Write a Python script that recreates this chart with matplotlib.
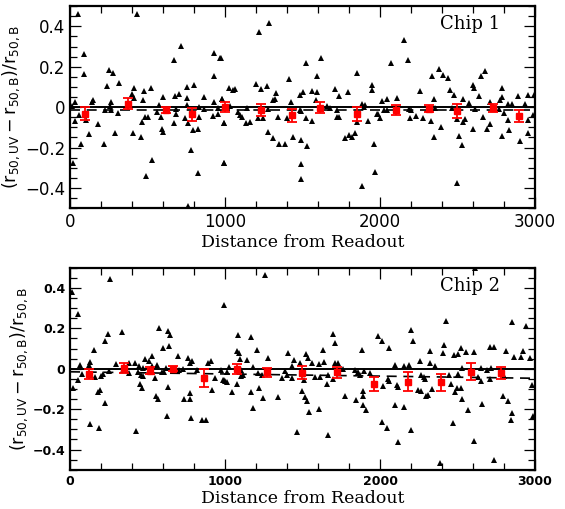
import numpy as np
import matplotlib
matplotlib.use("Agg")
import matplotlib.pyplot as plt
from matplotlib.ticker import MultipleLocator

plt.rcParams['mathtext.default'] = 'regular'

# chip 1 scatter (distance, fractional difference)
chip1_x = [49, 430, 88, 716, 673, 931, 968, 927, 92, 250, 275, 314, 237, 415, 480, 525,
           400, 415, 598, 677, 701, 752, 798, 755, 866, 980, 931, 469, 264, 146, 142, 34,
           13, 260, 576, 752, 834, 866, 952, 684, 228, 307, 264, 561, 60, 34, 103, 181,
           501, 486, 465, 587, 673, 684, 740, 759, 834, 920, 955, 996, 593, 602, 791, 823,
           125, 290, 404, 458, 71, 221, 781, 529, 17, 996, 823, 490, 759,
           1286, 1222, 972, 1523, 1617, 1415, 1596, 1850, 1198, 1273, 1232, 1028, 1050, 1065,
           1327, 1312, 1320, 1505, 1484, 1559, 1592, 1712, 1794, 1738, 1949, 1951, 1426, 1587,
           979, 1882, 1903, 1032, 1140, 1280, 1484, 1491, 1656, 1677, 1720, 1898, 1979, 1086,
           1097, 1112, 1215, 1243, 1136, 1162, 1344, 1398, 1523, 1559, 1720, 1732, 1850, 1925,
           994, 1280, 1312, 1350, 1389, 1437, 1490, 1531, 1772, 1798, 1821, 1839, 1961, 994,
           1488, 1967, 1490, 1886,
           2157, 2179, 2069, 2381, 2334, 2409, 2437, 2678, 2652, 2602, 2606, 2258, 2452, 2478,
           2789, 2785, 2639, 2533, 2351, 2112, 2047, 2015, 2893, 2953, 2775, 2710, 2573, 2854,
           2825, 2935, 2028, 2045, 2189, 2198, 2312, 2355, 2613, 2462, 2770, 2802, 1985, 2000,
           2194, 2230, 2280, 2329, 2495, 2545, 2538, 2662, 2710, 2602, 2693, 2394, 2828, 2957,
           2785, 2832, 2953, 2351, 2510, 2527, 2903, 2495, 2990, 2985]
chip1_y = [0.46, 0.46, 0.265, 0.301, 0.232, 0.27, 0.245, 0.156, 0.163, 0.182, 0.171, 0.121,
           0.103, 0.097, 0.08, 0.095, 0.064, 0.046, 0.05, 0.054, 0.065, 0.1, 0.112, 0.046,
           0.051, 0.041, 0.024, 0.034, 0.026, 0.034, 0.026, 0.024, 0.004, 0.008, 0.013, 0.013,
           0.0, -0.007, -0.002, -0.007, -0.012, -0.028, -0.015, -0.023, -0.04, -0.068, -0.065,
           -0.081, -0.048, -0.048, -0.073, -0.051, -0.076, -0.035, -0.056, -0.078, -0.051,
           -0.045, -0.035, -0.078, -0.106, -0.125, -0.114, -0.107, -0.135, -0.13, -0.127,
           -0.147, -0.18, -0.18, -0.213, -0.262, -0.275, -0.275, -0.328, -0.341, -0.489,
           0.416, 0.372, 0.245, 0.22, 0.243, 0.141, 0.153, 0.171, 0.113, 0.107, 0.09, 0.097,
           0.087, 0.092, 0.07, 0.037, 0.041, 0.077, 0.059, 0.08, 0.074, 0.092, 0.077, 0.054,
           0.112, 0.084, 0.026, 0.034, 0.042, 0.018, 0.013, 0.004, -0.002, -0.007, -0.012,
           -0.018, 0.004, -0.002, -0.015, 0.0, -0.032, -0.023, -0.04, -0.051, -0.056, -0.056,
           -0.078, -0.074, -0.048, -0.053, -0.056, -0.068, -0.048, -0.051, -0.073, -0.068,
           -0.078, -0.122, -0.155, -0.183, -0.183, -0.15, -0.163, -0.193, -0.155, -0.139,
           -0.15, -0.127, -0.18, -0.275, -0.279, -0.32, -0.358, -0.39,
           0.334, 0.232, 0.219, 0.19, 0.156, 0.159, 0.144, 0.177, 0.153, 0.112, 0.095, 0.08,
           0.084, 0.059, 0.097, 0.051, 0.056, 0.042, 0.041, 0.047, 0.042, 0.031, 0.054, 0.062,
           0.037, 0.026, 0.021, 0.015, 0.015, 0.015, -0.012, -0.012, -0.007, -0.015, -0.007,
           -0.002, -0.007, -0.002, -0.007, -0.028, -0.032, -0.056, -0.056, -0.043, -0.056,
           -0.068, -0.061, -0.058, -0.073, -0.048, -0.081, -0.106, -0.106, -0.098, -0.065,
           -0.065, -0.142, -0.114, -0.13, -0.15, -0.144, -0.185, -0.167, -0.377, 0.06, -0.04]

# chip 1 binned means
bin1_x = [99, 372, 619, 787, 1000, 1230, 1434, 1613, 1854, 2101, 2316, 2499, 2731, 2897]
bin1_y = [-0.032, 0.018, -0.015, -0.035, 0.0, -0.015, -0.04, -0.002, -0.035, -0.015,
          -0.007, -0.018, -0.004, -0.043]
bin1_err = [0.033, 0.025, 0.015, 0.033, 0.025, 0.03, 0.033, 0.028, 0.035, 0.026, 0.016,
            0.035, 0.018, 0.03]

# chip 2 scatter
chip2_x = [260, 13, 54, 994, 157, 228, 243, 333, 576, 630, 645, 641, 602, 527, 486, 508,
           67, 129, 125, 297, 378, 419, 447, 473, 529, 559, 619, 608, 699, 705, 731, 759,
           774, 785, 817, 888, 910, 974, 938, 996, 914, 17, 54, 77, 163, 200, 211, 250,
           383, 437, 458, 473, 452, 465, 546, 593, 630, 555, 570, 178, 195, 226, 738, 774,
           776, 781, 852, 877, 626, 131, 189, 426,
           1258, 1086, 1166, 1209, 1075, 1092, 1097, 1144, 1280, 1404, 1523, 1532, 1559, 1445,
           1484, 1603, 1634, 1638, 1695, 1712, 1710, 1727, 1886, 1985, 1183, 1011, 1028, 1103,
           1118, 1101, 1215, 1236, 1387, 1398, 1430, 1365, 1430, 1512, 1581, 1613, 1667, 1695,
           1656, 1764, 1838, 1860, 1871, 1897, 1935, 985, 1000, 1015, 1080, 1043, 1166, 1222,
           1248, 1340, 1183, 1495, 1516, 1527, 1544, 1609, 1774, 1845, 1892, 1892, 1888, 1907,
           1462, 1667,
           2424, 2854, 2942, 2200, 2210, 2015, 2058, 2413, 2409, 2323, 2523, 2553, 2480, 2505,
           2607, 2710, 2732, 2811, 2920, 2907, 2866, 2967, 2258, 2323, 2355, 2097, 2157, 2187,
           2531, 2652, 2693, 2714, 2505, 2443, 2262, 2286, 2290, 2050, 2108, 2114, 2021, 2058,
           2243, 2265, 2295, 2312, 2338, 2456, 2495, 2484, 2521, 2531, 2634, 2652, 2710, 2802,
           2660, 2566, 2796, 2824, 2854, 2843, 2978, 2989, 2097, 2157, 2015, 2043, 2118, 2200,
           2473, 2609, 2387, 2732, 2613]
chip2_y = [0.444, 0.381, 0.27, 0.318, 0.095, 0.137, 0.17, 0.182, 0.202, 0.185, 0.168, 0.115,
           0.102, 0.061, 0.046, 0.036, 0.021, 0.033, 0.019, 0.024, 0.029, 0.027, 0.016, 0.003,
           0.016, 0.019, 0.003, -0.014, 0.061, -0.004, -0.001, 0.052, 0.029, 0.036, -0.004,
           0.029, 0.037, -0.004, -0.047, -0.054, -0.104, -0.097, -0.054, -0.026, -0.042,
           -0.037, -0.026, -0.009, -0.021, -0.017, -0.031, -0.037, -0.075, -0.097, -0.047,
           -0.017, -0.092, -0.137, -0.15, -0.113, -0.105, -0.17, -0.15, -0.15, -0.122, -0.244,
           -0.254, -0.254, -0.233, -0.274, -0.291, -0.307,
           0.464, 0.165, 0.157, 0.094, 0.086, 0.079, 0.049, 0.044, 0.052, 0.079, 0.074, 0.054,
           0.029, 0.041, 0.027, 0.024, 0.095, 0.032, 0.173, 0.127, 0.027, 0.027, 0.095, 0.16,
           0.011, -0.017, 0.008, -0.004, -0.03, -0.037, -0.022, -0.03, -0.009, -0.03, 0.013,
           -0.045, -0.047, -0.054, -0.042, -0.042, -0.03, -0.05, -0.075, -0.001, -0.004,
           -0.017, -0.03, -0.009, -0.022, -0.054, -0.06, -0.067, -0.075, -0.117, -0.117,
           -0.097, -0.147, -0.138, -0.195, -0.112, -0.142, -0.158, -0.213, -0.2, -0.133,
           -0.155, -0.108, -0.133, -0.18, -0.203, -0.311, -0.327,
           0.236, 0.231, 0.21, 0.193, 0.137, 0.137, 0.104, 0.12, 0.077, 0.086, 0.102, 0.082,
           0.069, 0.071, 0.082, 0.107, 0.107, 0.086, 0.09, 0.057, 0.057, 0.054, 0.039, 0.029,
           0.013, 0.021, 0.016, 0.019, 0.003, 0.003, -0.004, 0.003, -0.026, -0.03, -0.03,
           -0.042, -0.05, -0.05, -0.079, -0.092, -0.084, -0.062, -0.105, -0.108, -0.133,
           -0.13, -0.1, -0.075, -0.097, -0.117, -0.097, -0.15, -0.042, -0.059, -0.05, -0.034,
           -0.175, -0.205, -0.133, -0.158, -0.22, -0.253, -0.08, -0.233, -0.18, -0.191,
           -0.263, -0.291, -0.362, -0.302, -0.266, -0.357, -0.465, -0.453, 0.497]

# chip 2 binned means
bin2_x = [125, 350, 518, 667, 863, 1075, 1273, 1495, 1720, 1961, 2183, 2394, 2587, 2781]
bin2_y = [-0.026, 0.003, -0.009, 0.0, -0.047, 0.0, -0.017, -0.02, -0.017, -0.075, -0.064,
          -0.067, -0.014, -0.022]
bin2_err = [0.025, 0.024, 0.017, 0.013, 0.044, 0.025, 0.022, 0.033, 0.028, 0.036, 0.046,
            0.043, 0.041, 0.029]

# dashed fit lines (value at x=0 and x=3000)
fit1 = [-0.013, -0.013]
fit2 = [-0.015, -0.047]

ylab = r'$(r_{50,UV} - r_{50,B})/r_{50,B}$'

fig = plt.figure(figsize=(5.65, 5.09), dpi=100)
ax1 = fig.add_axes([0.124, 0.591, 0.823, 0.397])
ax2 = fig.add_axes([0.124, 0.077, 0.823, 0.397])

panels = [(ax1, chip1_x, chip1_y, bin1_x, bin1_y, bin1_err, fit1, 'Chip 1', 12, 'normal'),
          (ax2, chip2_x, chip2_y, bin2_x, bin2_y, bin2_err, fit2, 'Chip 2', 9, 'bold')]

for ax, sx, sy, bx, by, be, fit, name, tsize, tweight in panels:
    ax.plot(sx, sy, '^', color='black', ms=3.8, mew=0, zorder=2)
    ax.axhline(0, color='black', lw=1.4, zorder=3)
    ax.plot([0, 3000], fit, '--', color='black', lw=1.2, dashes=(6, 4), zorder=3)
    ax.errorbar(bx, by, yerr=be, fmt='s', color='red', ms=4.5, capsize=3.5,
                elinewidth=1.3, capthick=1.3, zorder=4)
    ax.set_xlim(0, 3000)
    ax.set_ylim(-0.5, 0.5)
    ax.xaxis.set_major_locator(MultipleLocator(1000))
    ax.xaxis.set_minor_locator(MultipleLocator(200))
    ax.yaxis.set_major_locator(MultipleLocator(0.2))
    ax.yaxis.set_minor_locator(MultipleLocator(0.05))
    ax.tick_params(which='both', direction='in', top=True, right=True, width=0.9)
    ax.tick_params(which='major', length=8, labelsize=tsize)
    ax.tick_params(which='minor', length=5)
    for lab in ax.get_xticklabels() + ax.get_yticklabels():
        lab.set_fontweight(tweight)
    ax.yaxis.set_major_formatter(plt.FuncFormatter(
        lambda v, p: '0' if abs(v) < 1e-9 else ('%.1f' % v).replace('-', '\u2212')))
    for s in ax.spines.values():
        s.set_linewidth(1.6)
    ax.text(0.86, 0.91, name, transform=ax.transAxes, ha='center', va='center',
            fontsize=13, family='DejaVu Serif')
    ax.set_xlabel('Distance from Readout', fontsize=12.5, family='DejaVu Serif', labelpad=2)
    ax.set_ylabel(ylab, fontsize=12.5, labelpad=2)

fig.savefig('out.png', dpi=100)
